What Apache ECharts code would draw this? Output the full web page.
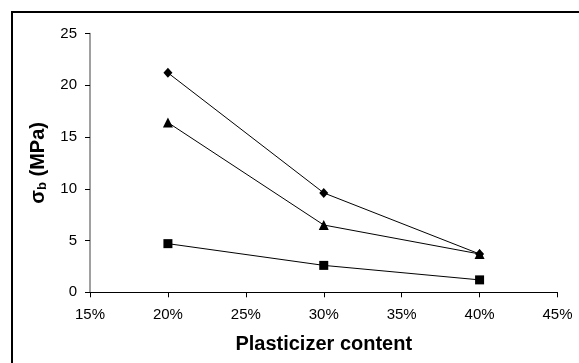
<!DOCTYPE html>
<html>
<head>
<meta charset="utf-8">
<script src="https://cdn.jsdelivr.net/npm/echarts@6/dist/echarts.min.js"></script>
<style>
html,body{margin:0;padding:0;background:#fff;}
#chart{width:579px;height:363px;}
</style>
</head>
<body>
<div id="chart"></div>
<script>
var xTicks = [15, 20, 25, 30, 35, 40, 45];
var yTicks = [0, 5, 10, 15, 20, 25];
var content = [20, 30, 40];
var seriesDiamond = [21.2, 9.6, 3.7];
var seriesTriangle = [16.4, 6.5, 3.7];
var seriesSquare = [4.7, 2.6, 1.2];

function pairs(vals) {
  return content.map(function (c, i) { return [c, vals[i]]; });
}

var FONT = '"Liberation Sans", Arial, sans-serif';
var chart = echarts.init(document.getElementById('chart'), null, {renderer: 'canvas'});

function mkSeries(name, vals, symbol, size) {
  return {
    name: name,
    type: 'line',
    data: pairs(vals),
    symbol: symbol,
    symbolSize: size,
    showAllSymbol: true,
    lineStyle: {color: '#000', width: 1},
    itemStyle: {color: '#000', borderWidth: 0},
    emphasis: {disabled: true},
    animation: false
  };
}

chart.setOption({
  animation: false,
  backgroundColor: '#fff',
  textStyle: {fontFamily: FONT},
  graphic: [{
    type: 'rect',
    shape: {x: 12, y: 12, width: 700, height: 500},
    style: {fill: 'none', stroke: '#000', lineWidth: 2},
    silent: true,
    z: 100
  }],
  grid: {left: 90, right: 21.5, top: 33.5, bottom: 70.7, containLabel: false},
  xAxis: {
    type: 'value',
    min: xTicks[0],
    max: xTicks[xTicks.length - 1],
    interval: xTicks[1] - xTicks[0],
    name: 'Plasticizer content',
    nameLocation: 'middle',
    nameGap: 42,
    nameTextStyle: {fontFamily: FONT, fontSize: 20, fontWeight: 'bold', color: '#000'},
    axisLine: {show: true, onZero: false, lineStyle: {color: '#000', width: 1}},
    axisTick: {show: true, inside: false, length: 5, lineStyle: {color: '#000'}},
    axisLabel: {fontFamily: FONT, fontSize: 15, color: '#000', margin: 15,
      formatter: function (v) { return v + '%'; }},
    splitLine: {show: false}
  },
  yAxis: {
    type: 'value',
    min: yTicks[0],
    max: yTicks[yTicks.length - 1],
    interval: yTicks[1] - yTicks[0],
    name: '{a|σ}{b|b}{a| (MPa)}',
    nameLocation: 'middle',
    nameGap: 40,
    nameRotate: 90,
    nameTextStyle: {
      fontFamily: FONT, color: '#000',
      rich: {
        a: {fontFamily: FONT, fontSize: 20, fontWeight: 'bold', color: '#000'},
        b: {fontFamily: FONT, fontSize: 13, fontWeight: 'bold', color: '#000', padding: [9, 0, 0, 0]}
      }
    },
    axisLine: {show: true, lineStyle: {color: '#808080', width: 1.5}},
    axisTick: {show: true, inside: false, length: 5, lineStyle: {color: '#000'}},
    axisLabel: {fontFamily: FONT, fontSize: 15, color: '#000', margin: 13},
    splitLine: {show: false}
  },
  series: [
    mkSeries('A', seriesDiamond, 'diamond', [9, 10]),
    mkSeries('B', seriesTriangle, 'triangle', 10),
    mkSeries('C', seriesSquare, 'rect', 9)
  ]
});
</script>
</body>
</html>
